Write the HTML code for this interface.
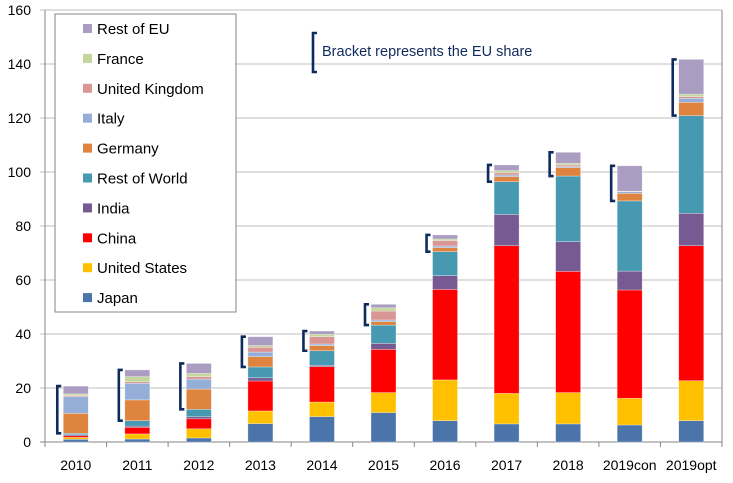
<!DOCTYPE html>
<html><head><meta charset="utf-8"><style>
body{margin:0;background:#fff;}
svg{display:block;font-family:"Liberation Sans",sans-serif;}
</style></head><body>
<svg id="chart" width="733" height="483" viewBox="0 0 733 483"></svg>
<script>
const categories=["2010","2011","2012","2013","2014","2015","2016","2017","2018","2019con","2019opt"];
const seriesNames=["Japan","United States","China","India","Rest of World","Germany","Italy","United Kingdom","France","Rest of EU"];
const japan=[1.0,1.1,1.5,6.8,9.4,10.9,7.9,6.7,6.7,6.3,7.9];
const unitedStates=[0.7,1.9,3.4,4.7,5.4,7.4,15.1,11.3,11.6,9.9,14.8];
const china=[0.6,2.4,3.7,11.1,13.1,16.0,33.5,54.7,44.9,40.1,50.0];
const india=[0.4,0.5,0.8,1.2,0.5,2.2,5.1,11.6,11.0,7.0,12.0];
const restOfWorld=[0.5,2.0,2.7,4.0,5.4,6.8,8.9,12.1,24.3,26.0,36.2];
const germany=[7.4,7.7,7.5,3.8,1.9,1.3,1.5,1.9,3.1,2.8,4.9];
const italy=[6.2,6.1,3.7,1.7,0.6,0.6,0.6,0.6,0.4,0.6,1.5];
const unitedKingdom=[0.4,0.6,0.9,1.8,2.7,3.3,2.0,0.8,0.6,0.1,0.6];
const france=[0.6,1.9,1.2,0.6,0.9,1.2,0.6,0.8,0.6,0.1,0.9];
const restOfEU=[2.9,2.5,3.7,3.3,1.2,1.3,1.5,2.1,4.1,9.4,12.9];
const yTicks=[0,20,40,60,80,100,120,140,160];
const seriesValues=[japan,unitedStates,china,india,restOfWorld,germany,italy,unitedKingdom,france,restOfEU];
const colors=["#4a74aa","#ffc000","#ff0000","#775a92","#4699b1","#de843f","#95aed7","#d99694","#c3d69b","#ab9dc2"];
const NS="http://www.w3.org/2000/svg";
const svg=document.getElementById('chart');
const X0=45,X1=722,Y0=442,Y160=10;
const y=v=>Y0-(v/160)*(Y0-Y160);
const band=(X1-X0)/categories.length;
const xc=i=>X0+band*(i+0.5);
const BW=25;
function mk(t,a,p){const e=document.createElementNS(NS,t);for(const k in a)e.setAttribute(k,a[k]);(p||svg).appendChild(e);return e;}
yTicks.forEach(t=>{
  const g=mk('line',{x1:X0-5,x2:X1,y1:y(t),y2:y(t),stroke:t===0?'#868686':'#bfbfbf','stroke-width':1});
  
  
  const l=mk('text',{x:31,y:y(t)+5,'text-anchor':'end','font-size':14,fill:'#000'});
  l.textContent=t;
  
  
});
const ax=mk('line',{x1:X0,x2:X0,y1:Y160,y2:Y0,stroke:'#868686'});


const rax=mk('line',{x1:X1,x2:X1,y1:Y160,y2:Y0,stroke:'#868686'});


for(let i=0;i<=categories.length;i++){
  const tk=mk('line',{x1:X0+band*i,x2:X0+band*i,y1:Y0,y2:Y0+5,stroke:'#868686'});
  
  
}
categories.forEach((c,i)=>{
  const l=mk('text',{x:xc(i),y:470,'text-anchor':'middle','font-size':14,fill:'#000'});
  l.textContent=c;
  
  
  let cum=0,rowTop=0;
  seriesValues.forEach((s,k)=>{
    const v=s[i];
    const r=mk('rect',{x:xc(i)-BW/2,y:y(cum+v),width:BW,height:Math.max(0,y(cum)-y(cum+v)),fill:colors[k],stroke:'rgba(255,255,255,0.5)','stroke-width':0.6});
    
    
    cum+=v;
    if(k===4)rowTop=cum;
  });
  const bx=xc(i)-BW/2-6,yt=y(cum),yb=y(rowTop);
  const br=mk('path',{d:`M${bx+4},${yt} H${bx} V${yb} H${bx+4}`,fill:'none',stroke:'#0f2a5c','stroke-width':2.6});
  
  
});
const lg=mk('g',{});


mk('rect',{x:55,y:14,width:181,height:298,fill:'#fff',stroke:'#868686'},lg);
for(let k=9;k>=0;k--){
  const row=9-k, yy=28+row*29.9;
  const e=mk('g',{},lg);
  
  
  mk('rect',{x:83,y:yy-4,width:9,height:9,fill:colors[k]},e);
  const t=mk('text',{x:97,y:yy+6,'font-size':15,fill:'#000'},e);
  t.textContent=seriesNames[k];
}
const an=mk('path',{d:'M317,33 H313 V72 H317',fill:'none',stroke:'#0f2a5c','stroke-width':2.6});


const at=mk('text',{x:322,y:56,'font-size':14.5,fill:'#0f2a5c'});
at.textContent='Bracket represents the EU share';


</script>
</body></html>
